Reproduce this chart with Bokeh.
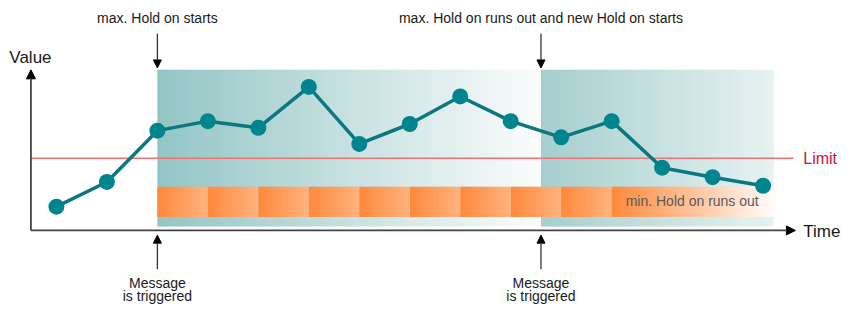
from bokeh.plotting import figure
from bokeh.models import Range1d, Arrow, NormalHead, ColumnDataSource
from bokeh.core.properties import value
from bokeh.embed import file_html
from bokeh.resources import INLINE

# ---- data ----
times = list(range(15))
values = [25, 51, 105, 115, 108, 151, 91, 112, 141, 115, 98, 115, 66, 56, 47]
limit = 76
hold_max_1 = (2.0, 9.6)      # first max. Hold on interval (time units)
hold_max_2 = (9.6, 14.21)    # second max. Hold on interval
hold_min_starts = [2, 3, 4, 5, 6, 7, 8, 9, 10]   # min. Hold on periods (1 unit each)
hold_min_last = (11, 14.21)  # last min. Hold on period, runs out
band_top, band_bottom = 169, 4
min_top, min_bottom = 46, 14

# ---- mapping helpers (reference-picture pixels -> data units) ----
X0PX, DX = 57.0, 51.43
AXPX = 242.0
REF_W, REF_H = 860, 320
W, H = 844, 304
def tx(px):
    return (px - X0PX) / DX
def vy(py):
    return AXPX - py

FONT = value("Liberation Sans")

p = figure(width=W, height=H, x_range=Range1d(tx(0), tx(REF_W)),
           y_range=Range1d(vy(REF_H), vy(0)), output_backend="svg",
           toolbar_location=None, min_border=0,
           x_axis_location=None, y_axis_location=None)
p.grid.visible = False
p.outline_line_color = None
p.background_fill_color = "white"
p.border_fill_color = "white"


def hexc(c):
    return "#%02x%02x%02x" % tuple(int(round(v)) for v in c)


def gradient(x0, x1, y0, y1, c0, c1, n=60):
    w = (x1 - x0) / n
    left, right, cols = [], [], []
    for i in range(n):
        f = i / (n - 1)
        left.append(x0 + i * w)
        right.append(min(x0 + (i + 1) * w + 0.02, x1))
        cols.append(hexc([a + (b - a) * f for a, b in zip(c0, c1)]))
    p.quad(left=left, right=right, bottom=y0, top=y1, fill_color=cols,
           line_color=None)


# teal max. Hold on bands
gradient(hold_max_1[0], hold_max_1[1], band_bottom, band_top,
         (148, 197, 197), (250, 252, 252), 80)
gradient(hold_max_2[0], hold_max_2[1], band_bottom, band_top,
         (166, 206, 206), (231, 242, 242), 60)

# orange min. Hold on bar
for s in hold_min_starts:
    gradient(s, s + 1, min_bottom, min_top, (255, 138, 61), (255, 178, 126), 20)
gradient(hold_min_last[0], hold_min_last[1], min_bottom, min_top,
         (255, 138, 61), (255, 252, 250), 60)

# limit line
p.line(x=[tx(31), tx(808)], y=[limit, limit], line_color="#F07272", line_width=1.5)

# axes with arrows
p.add_layout(Arrow(end=NormalHead(size=9, fill_color="black", line_color="black"),
                   x_start=tx(31), y_start=0, x_end=tx(810), y_end=0,
                   line_color="#444444", line_width=1.8))
p.add_layout(Arrow(end=NormalHead(size=9, fill_color="black", line_color="black"),
                   x_start=tx(31), y_start=0, x_end=tx(31), y_end=vy(73),
                   line_color="#444444", line_width=1.8))

# data line
src = ColumnDataSource(dict(t=times, v=values))
p.line("t", "v", source=src, line_color="#0B777F", line_width=3.5)
p.scatter("t", "v", source=src, size=16, fill_color="#00858E", line_color=None)

# annotation arrows
for t in (hold_max_1[0], hold_max_2[0]):
    p.add_layout(Arrow(end=NormalHead(size=8, fill_color="black", line_color="black"),
                       x_start=t, y_start=vy(35), x_end=t, y_end=vy(71),
                       line_color="#333333", line_width=1.3))
    p.add_layout(Arrow(end=NormalHead(size=8, fill_color="black", line_color="black"),
                       x_start=t, y_start=vy(283), x_end=t, y_end=vy(247),
                       line_color="#333333", line_width=1.3))

# texts
def txt(x, y, s, size="14px", color="#1a1a1a", align="center", baseline="middle"):
    p.text(x=[x], y=[y], text=[s], text_font=FONT, text_font_size=size,
           text_color=color, text_align=align, text_baseline=baseline)

txt(hold_max_1[0], vy(18), "max. Hold on starts")
txt(hold_max_2[0], vy(18), "max. Hold on runs out and new Hold on starts")
for t in (hold_max_1[0], hold_max_2[0]):
    txt(t, vy(297), "Message")
    txt(t, vy(311), "is triggered")
txt(tx(9), vy(60), "Value", size="17px", align="left")
txt(tx(818), vy(243), "Time", size="17px", align="left")
txt(tx(818), limit, "Limit", size="16px", color="#C8133F", align="left")
txt(tx(637), vy(211), "min. Hold on runs out", color="#5a5a5a", align="left")

open("out.html", "w").write(file_html(p, INLINE))
